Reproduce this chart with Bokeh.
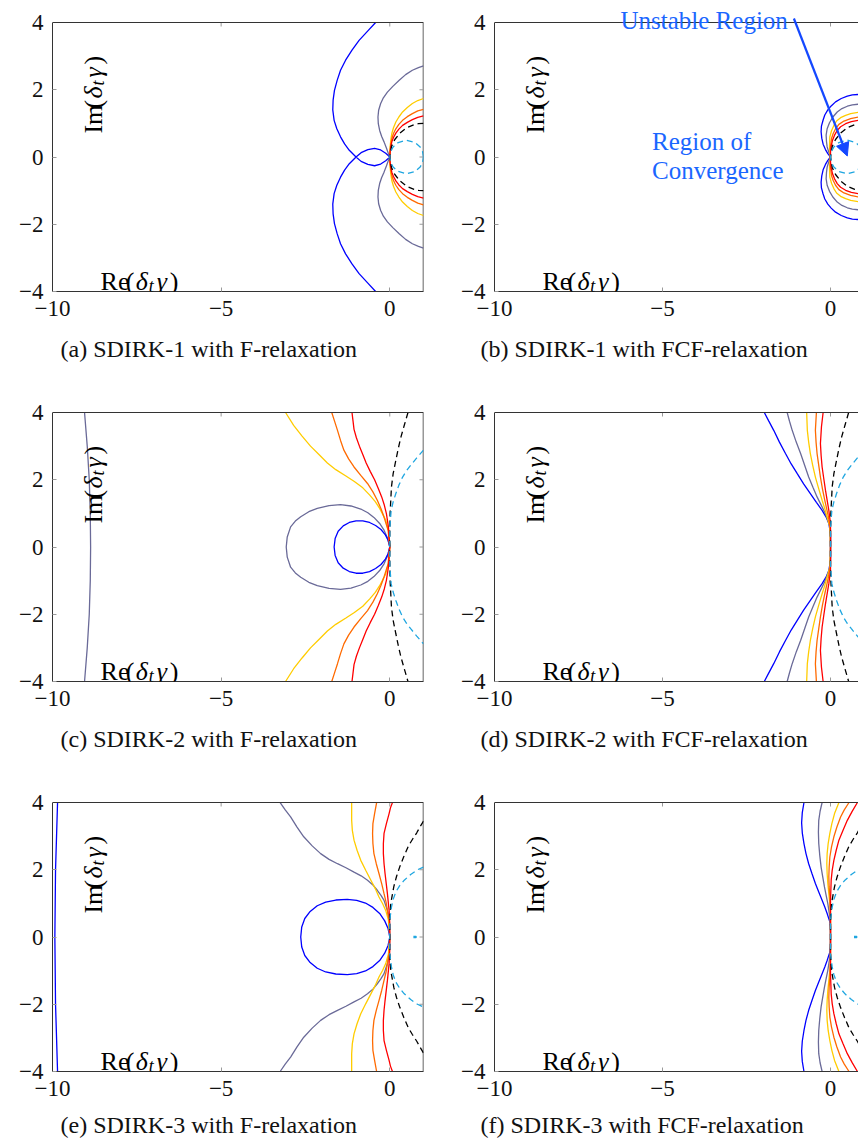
import math
from bokeh.plotting import figure
from bokeh.layouts import column, row
from bokeh.models import Label, Arrow, NormalHead, FixedTicker, Title, Span
from bokeh.embed import file_html
from bokeh.resources import INLINE

# ---------------- data (upper halves; curves are symmetric about Im=0) -------------
x_ticks = [-10, -5, 0]
x_tick_labels = ["\u221210", "\u22125", "0"]
y_ticks = [-4, -2, 0, 2, 4]
y_tick_labels = ["\u22124", "\u22122", "0", "2", "4"]

captions = ["(a) SDIRK-1 with F-relaxation", "(b) SDIRK-1 with FCF-relaxation",
            "(c) SDIRK-2 with F-relaxation", "(d) SDIRK-2 with FCF-relaxation",
            "(e) SDIRK-3 with F-relaxation", "(f) SDIRK-3 with FCF-relaxation"]

# SDIRK-1, F-relaxation
a_blue_outer = [(-0.42, 4.0), (-0.65, 3.75), (-0.91, 3.47), (-1.12, 3.18), (-1.31, 2.88), (-1.46, 2.58),
                (-1.56, 2.28), (-1.64, 1.98), (-1.68, 1.69), (-1.69, 1.40), (-1.65, 1.09), (-1.57, 0.84),
                (-1.46, 0.60), (-1.34, 0.39), (-1.20, 0.20), (-1.0, 0.0)]
a_blue_inner = [(-1.0, 0.0), (-0.85, 0.13), (-0.65, 0.22), (-0.45, 0.26), (-0.27, 0.21),
                (-0.12, 0.11), (-0.03, 0.03), (0.0, 0.0)]
a_slate = [(1.0, 2.71), (0.85, 2.66), (0.67, 2.58), (0.47, 2.45), (0.28, 2.28), (0.09, 2.10), (-0.07, 1.93),
           (-0.19, 1.76), (-0.27, 1.59), (-0.33, 1.39), (-0.35, 1.19), (-0.34, 0.99), (-0.30, 0.79),
           (-0.24, 0.61), (-0.17, 0.45), (-0.10, 0.27), (-0.04, 0.10), (0.0, 0.0)]
a_yellow = [(1.0, 1.74), (0.83, 1.68), (0.67, 1.59), (0.52, 1.47), (0.38, 1.34), (0.27, 1.19), (0.18, 1.04),
            (0.11, 0.87), (0.06, 0.70), (0.03, 0.50), (0.01, 0.30), (0.0, 0.0)]
a_orange = [(1.0, 1.42), (0.83, 1.37), (0.67, 1.29), (0.52, 1.20), (0.38, 1.09), (0.27, 0.97), (0.18, 0.84),
            (0.11, 0.70), (0.06, 0.55), (0.03, 0.38), (0.01, 0.20), (0.0, 0.0)]
a_red = [(1.0, 1.22), (0.83, 1.18), (0.67, 1.11), (0.52, 1.03), (0.38, 0.94), (0.27, 0.83), (0.18, 0.71),
         (0.11, 0.58), (0.06, 0.45), (0.03, 0.30), (0.01, 0.15), (0.0, 0.0)]

# SDIRK-1, FCF-relaxation
b_blue = [(0.83, 1.86), (0.65, 1.85), (0.5, 1.81), (0.32, 1.74), (0.15, 1.64), (0.02, 1.52), (-0.08, 1.40),
          (-0.17, 1.25), (-0.22, 1.10), (-0.27, 0.92), (-0.28, 0.75), (-0.26, 0.56), (-0.22, 0.38),
          (-0.15, 0.22), (-0.08, 0.10), (0.0, 0.0)]
b_slate = [(0.83, 1.57), (0.65, 1.55), (0.5, 1.51), (0.34, 1.44), (0.2, 1.34), (0.07, 1.19), (-0.03, 1.02),
           (-0.10, 0.84), (-0.13, 0.65), (-0.12, 0.46), (-0.10, 0.30), (-0.05, 0.14), (0.0, 0.0)]
b_yellow = [(0.83, 1.33), (0.6, 1.29), (0.45, 1.24), (0.3, 1.17), (0.18, 1.07), (0.1, 0.94), (0.03, 0.78),
            (-0.02, 0.60), (-0.03, 0.30), (0.0, 0.0)]
b_orange = [(0.83, 1.19), (0.6, 1.14), (0.4, 1.07), (0.25, 0.97), (0.15, 0.84), (0.08, 0.70), (0.03, 0.55),
            (-0.01, 0.25), (0.0, 0.0)]
b_red = [(0.83, 1.09), (0.62, 1.05), (0.45, 0.99), (0.3, 0.90), (0.2, 0.79), (0.12, 0.65), (0.06, 0.50),
         (0.02, 0.32), (0.0, 0.15), (0.0, 0.0)]

# SDIRK-1 stability boundaries (fine: black, coarse: cyan)
s1_black = [(1.0, 1.0), (0.85, 0.99), (0.72, 0.96), (0.5, 0.87), (0.3, 0.71), (0.15, 0.52), (0.05, 0.31),
            (0.0, 0.0)]
s1_cyan = [(1.0, 0.0), (0.97, 0.17), (0.9, 0.3), (0.75, 0.43), (0.5, 0.5), (0.25, 0.43), (0.1, 0.3),
           (0.03, 0.17), (0.0, 0.0)]

# SDIRK-2, F-relaxation
c_slate_line = [(-9.05, 4.0), (-8.97, 3.0), (-8.91, 2.0), (-8.88, 1.0), (-8.87, 0.0)]
c_slate_loop = [(-3.07, 0.0), (-3.04, 0.30), (-2.94, 0.60), (-2.80, 0.77), (-2.64, 0.90), (-2.40, 1.05),
                (-2.15, 1.15), (-1.80, 1.23), (-1.46, 1.26), (-1.15, 1.22), (-0.86, 1.13), (-0.65, 1.02),
                (-0.47, 0.88), (-0.30, 0.70), (-0.17, 0.50), (-0.08, 0.30), (-0.02, 0.10), (0.0, 0.0)]
c_blue = [(-1.65, 0.0), (-1.62, 0.25), (-1.53, 0.47), (-1.38, 0.63), (-1.2, 0.73), (-1.0, 0.78),
          (-0.80, 0.78), (-0.6, 0.73), (-0.42, 0.64), (-0.26, 0.52), (-0.13, 0.36), (-0.05, 0.20), (0.0, 0.0)]
c_yellow = [(-3.09, 4.0), (-2.85, 3.62), (-2.6, 3.3), (-2.35, 3.0), (-2.1, 2.75), (-1.85, 2.5), (-1.6, 2.3),
            (-1.3, 2.11), (-1.05, 1.95), (-0.8, 1.76), (-0.6, 1.55), (-0.43, 1.35), (-0.3, 1.15),
            (-0.12, 0.80), (-0.03, 0.45), (0.0, 0.0)]
c_orange = [(-1.72, 4.0), (-1.64, 3.75), (-1.55, 3.47), (-1.46, 3.17), (-1.36, 2.88), (-1.22, 2.62),
            (-1.06, 2.38), (-0.86, 2.13), (-0.66, 1.89), (-0.50, 1.64), (-0.37, 1.39), (-0.26, 1.14),
            (-0.17, 0.89), (-0.05, 0.50), (0.0, 0.0)]
c_red = [(-1.12, 4.0), (-1.09, 3.75), (-1.06, 3.5), (-0.99, 3.25), (-0.9, 3.0), (-0.8, 2.75), (-0.7, 2.5),
         (-0.58, 2.25), (-0.45, 2.0), (-0.34, 1.74), (-0.24, 1.49), (-0.16, 1.24), (-0.10, 0.99),
         (-0.04, 0.60), (0.0, 0.0)]

# SDIRK-2, FCF-relaxation
d_blue = [(-1.97, 4.0), (-1.84, 3.75), (-1.69, 3.47), (-1.52, 3.12), (-1.34, 2.78), (-1.17, 2.47),
          (-0.99, 2.18), (-0.80, 1.88), (-0.60, 1.59), (-0.42, 1.33), (-0.25, 1.09), (-0.13, 0.89),
          (-0.05, 0.70), (0.0, 0.40), (0.0, 0.0)]
d_slate = [(-1.29, 4.0), (-1.22, 3.74), (-1.14, 3.47), (-1.02, 3.12), (-0.89, 2.78), (-0.77, 2.43),
           (-0.65, 2.08), (-0.52, 1.77), (-0.40, 1.49), (-0.27, 1.23), (-0.15, 0.99), (-0.03, 0.65),
           (0.0, 0.30), (0.0, 0.0)]
d_yellow = [(-0.71, 4.0), (-0.69, 3.47), (-0.65, 3.12), (-0.60, 2.78), (-0.53, 2.43), (-0.45, 2.08),
            (-0.35, 1.73), (-0.25, 1.39), (-0.17, 1.14), (-0.10, 0.89), (-0.02, 0.60), (0.0, 0.0)]
d_orange = [(-0.42, 4.0), (-0.45, 3.47), (-0.43, 3.12), (-0.40, 2.78), (-0.35, 2.43), (-0.30, 2.08),
            (-0.24, 1.73), (-0.17, 1.39), (-0.06, 0.89), (0.0, 0.50), (0.0, 0.0)]
d_red = [(-0.22, 4.0), (-0.27, 3.57), (-0.30, 3.08), (-0.28, 2.73), (-0.25, 2.38), (-0.20, 2.03),
         (-0.15, 1.69), (-0.05, 1.09), (0.0, 0.70), (0.0, 0.0)]

# SDIRK-2 stability boundaries
s2_black = [(0.54, 4.0), (0.43, 3.62), (0.33, 3.27), (0.25, 2.92), (0.18, 2.58), (0.10, 2.18),
            (0.05, 1.79), (0.01, 1.0), (0.0, 0.4), (0.0, 0.0)]
s2_cyan = [(1.0, 2.88), (0.80, 2.65), (0.62, 2.43), (0.49, 2.26), (0.38, 2.08), (0.27, 1.84), (0.18, 1.59),
           (0.10, 1.34), (0.04, 1.09), (0.0, 0.55), (0.0, 0.0)]

# SDIRK-3, F-relaxation
e_blue_line = [(-9.85, 4.0), (-9.88, 3.0), (-9.91, 2.0), (-9.92, 1.0), (-9.93, 0.0)]
e_slate = [(-3.25, 4.0), (-3.10, 3.78), (-2.94, 3.57), (-2.75, 3.27), (-2.55, 2.98), (-2.30, 2.71),
           (-2.05, 2.48), (-1.80, 2.31), (-1.55, 2.18), (-1.30, 2.06), (-1.06, 1.93), (-0.85, 1.82),
           (-0.66, 1.69), (-0.50, 1.55), (-0.37, 1.39), (-0.26, 1.24), (-0.17, 1.09), (-0.07, 0.79),
           (-0.02, 0.50), (0.0, 0.0)]
e_blue_loop = [(-2.64, 0.0), (-2.61, 0.30), (-2.52, 0.55), (-2.36, 0.76), (-2.15, 0.93), (-1.9, 1.04),
               (-1.6, 1.10), (-1.26, 1.12), (-0.98, 1.09), (-0.72, 1.01), (-0.50, 0.88), (-0.30, 0.70),
               (-0.15, 0.48), (-0.05, 0.25), (0.0, 0.0)]
e_yellow = [(-1.13, 4.0), (-1.13, 3.47), (-1.11, 3.17), (-1.06, 2.88), (-0.97, 2.58), (-0.86, 2.28),
            (-0.71, 1.98), (-0.56, 1.69), (-0.43, 1.44), (-0.32, 1.19), (-0.21, 0.99), (-0.12, 0.79),
            (-0.04, 0.50), (0.0, 0.0)]
e_orange = [(-0.39, 4.0), (-0.45, 3.67), (-0.50, 3.37), (-0.51, 3.08), (-0.50, 2.78), (-0.47, 2.48),
            (-0.40, 2.18), (-0.32, 1.89), (-0.24, 1.59), (-0.17, 1.29), (-0.11, 1.04), (-0.07, 0.79),
            (-0.02, 0.50), (0.0, 0.0)]
e_red = [(0.08, 4.0), (0.02, 3.84), (-0.02, 3.67), (-0.10, 3.37), (-0.17, 3.08), (-0.19, 2.78), (-0.19, 2.48),
         (-0.17, 2.18), (-0.14, 1.89), (-0.07, 1.29), (-0.02, 0.79), (0.0, 0.40), (0.0, 0.0)]

# SDIRK-3, FCF-relaxation
f_blue = [(-0.79, 4.0), (-0.84, 3.7), (-0.86, 3.4), (-0.84, 3.1), (-0.79, 2.78), (-0.73, 2.48), (-0.65, 2.18),
          (-0.55, 1.88), (-0.45, 1.59), (-0.35, 1.34), (-0.25, 1.09), (-0.17, 0.89), (-0.10, 0.70),
          (-0.02, 0.45), (0.0, 0.30), (0.0, 0.0)]
f_slate = [(-0.25, 4.0), (-0.31, 3.74), (-0.35, 3.47), (-0.36, 3.12), (-0.35, 2.78), (-0.32, 2.43),
           (-0.28, 2.08), (-0.23, 1.78), (-0.18, 1.49), (-0.13, 1.24), (-0.08, 0.99), (-0.02, 0.60), (0.0, 0.0)]
f_yellow = [(0.25, 4.0), (0.12, 3.67), (0.04, 3.37), (-0.02, 3.08), (-0.07, 2.78), (-0.10, 2.48),
            (-0.11, 2.18), (-0.10, 1.89), (-0.08, 1.59), (-0.05, 1.29), (0.0, 0.79), (0.0, 0.0)]
f_orange = [(0.55, 4.0), (0.41, 3.78), (0.30, 3.57), (0.19, 3.27), (0.10, 2.98), (0.03, 2.68), (-0.02, 2.38),
            (-0.04, 2.08), (-0.05, 1.79), (-0.04, 1.49), (-0.02, 1.19), (0.0, 0.60), (0.0, 0.0)]
f_red = [(0.80, 4.0), (0.64, 3.73), (0.50, 3.47), (0.37, 3.17), (0.25, 2.88), (0.17, 2.58), (0.10, 2.28),
         (0.05, 1.98), (0.02, 1.69), (0.0, 1.09), (0.0, 0.0)]

# SDIRK-3 stability boundaries
s3_black = [(1.0, 3.45), (0.9, 3.28), (0.8, 3.1), (0.67, 2.9), (0.55, 2.7), (0.42, 2.4), (0.3, 2.1),
            (0.2, 1.8), (0.12, 1.5), (0.03, 1.0), (0.0, 0.5), (0.0, 0.0)]
s3_cyan = [(1.0, 2.08), (0.82, 2.0), (0.62, 1.86), (0.43, 1.69), (0.29, 1.52), (0.18, 1.34), (0.10, 1.12),
           (0.05, 0.89), (0.0, 0.5), (0.0, 0.0)]
s3_cyan_dot = [(0.70, 0.02), (0.78, 0.02)]

# ---------------- styles ----------------
BLUE = "#0000ff"
SLATE = "#6a6a98"
YELLOW = "#ffcc00"
ORANGE = "#ff6a00"
RED = "#ff0000"
BLACK = "#000000"
CYAN = "#1fa6e0"
NOTE = "#1a66ff"
ARROWC = "#1448ff"
FRAME = "#333333"
TICK = "#9a9a9a"
FONT = "Liberation Serif"
PX_X = 33.65
PX_Y = 33.6
TOP_PAD = 22  # px of free space above the y=4 frame line (inside the plotting area)


def mirror(pts):
    xs = [p[0] for p in pts] + [p[0] for p in reversed(pts)]
    ys = [p[1] for p in pts] + [-p[1] for p in reversed(pts)]
    return xs, ys


def draw(p, pts, color, dashed=False):
    xs, ys = mirror(pts)
    if dashed:
        p.line(xs, ys, line_color=color, line_width=1.3, line_dash="6 4")
    else:
        p.line(xs, ys, line_color=color, line_width=1.3)


def style_axis(ax, overrides):
    ax.axis_line_color = FRAME
    ax.axis_line_width = 1
    ax.major_tick_in = 4
    ax.major_tick_out = 0
    ax.major_tick_line_color = TICK
    ax.minor_tick_line_color = None
    ax.major_label_text_font = FONT
    ax.major_label_text_font_size = "23px"
    ax.major_label_text_color = "#111111"
    ax.major_label_standoff = 9
    ax.major_label_overrides = overrides


def make_fig(left_col, last_row, caption):
    w = 444 if left_col else 414
    h = 368 if last_row else 390
    xr_end = 1.0 if left_col else 0.833
    y_end = 4 + TOP_PAD / PX_Y
    p = figure(width=w, height=h, x_range=(-10, xr_end), y_range=(-4, y_end),
               output_backend="svg", toolbar_location=None,
               min_border_left=52 if left_col else 50,
               min_border_right=21 if left_col else 0,
               min_border_top=0, min_border_bottom=h - TOP_PAD - 269)
    p.grid.visible = False
    p.outline_line_color = None
    p.background_fill_color = "white"
    p.border_fill_color = "white"

    p.xaxis.ticker = FixedTicker(ticks=x_ticks)
    p.yaxis.ticker = FixedTicker(ticks=y_ticks)
    style_axis(p.xaxis[0], dict(zip(x_ticks, x_tick_labels)))
    style_axis(p.yaxis[0], dict(zip(y_ticks, y_tick_labels)))
    p.yaxis[0].bounds = (-4, 4)

    # top frame line at Im = 4 with inward ticks
    p.add_layout(Span(location=4, dimension="width", line_color=FRAME, line_width=1))
    p.segment(x0=x_ticks, y0=[4] * len(x_ticks), x1=x_ticks, y1=[4 - 4 / PX_Y] * len(x_ticks),
              line_color=TICK, line_width=1)
    if left_col:
        # right frame line at Re = 1 with inward ticks
        p.segment(x0=[1], y0=[-4], x1=[1], y1=[4], line_color=FRAME, line_width=1.5)
        p.segment(x0=[1 - 4 / PX_X] * len(y_ticks), y0=y_ticks, x1=[1] * len(y_ticks), y1=y_ticks,
                  line_color=TICK, line_width=1)

    # in-plot axis labels  Re(δ_t γ)  and  Im(δ_t γ)
    pieces = [("(", 0), ("\u03b4", 0), ("t", 1), ("\u03b3", 0), (")", 0)]
    offs = [25, 35, 48, 56, 69]
    styles = ["normal", "italic", "italic", "italic", "normal"]
    x0 = -10 + 48 / PX_X
    y0 = -4 + 10 / PX_Y
    xv = -10 + 41.3 / PX_X
    yv = 4 - 111.0 / PX_Y
    for lead, is_h in (("Re", True), ("Im", False)):
        items = [(lead, 0, 0, "normal")] + [
            (t, o, s, st) for (t, s), o, st in zip(pieces, offs, styles)]
        for text, off, sub, st in items:
            size = "18px" if sub else "26px"
            if is_h:
                lab = Label(x=x0 + off / PX_X, y=y0 - (4.5 / PX_Y if sub else 0), text=text,
                            text_font=FONT, text_font_size=size, text_font_style=st,
                            text_align="left", text_baseline="alphabetic", text_color="black")
            else:
                lab = Label(x=xv + (4.5 / PX_X if sub else 0), y=yv + off / PX_Y, text=text,
                            angle=math.pi / 2,
                            text_font=FONT, text_font_size=size, text_font_style=st,
                            text_align="left", text_baseline="alphabetic", text_color="black")
            p.add_layout(lab)

    cap = Title(text=caption, align="left", offset=8 if left_col else -14,
                text_font=FONT, text_font_size="24px", text_font_style="normal",
                text_color="#111111", standoff=22 if last_row else 30, vertical_align="bottom")
    p.add_layout(cap, "below")
    return p


pa = make_fig(True, False, captions[0])
pb = make_fig(False, False, captions[1])
pc = make_fig(True, False, captions[2])
pd_ = make_fig(False, False, captions[3])
pe = make_fig(True, True, captions[4])
pf = make_fig(False, True, captions[5])

# (a)
draw(pa, a_blue_outer, BLUE)
draw(pa, a_blue_inner, BLUE)
draw(pa, a_slate, SLATE)
draw(pa, a_yellow, YELLOW)
draw(pa, a_orange, ORANGE)
draw(pa, a_red, RED)
draw(pa, s1_black, BLACK, True)
draw(pa, s1_cyan, CYAN, True)

# (b)
draw(pb, b_blue, BLUE)
draw(pb, b_slate, SLATE)
draw(pb, b_yellow, YELLOW)
draw(pb, b_orange, ORANGE)
draw(pb, b_red, RED)
draw(pb, s1_black, BLACK, True)
draw(pb, s1_cyan, CYAN, True)
pb.add_layout(Label(x=-6.25, y=4.05, text="Unstable Region", text_font=FONT, text_font_size="25px",
                    text_color=NOTE, text_align="left", text_baseline="alphabetic"))
pb.add_layout(Label(x=-5.31, y=0.45, text="Region of", text_font=FONT, text_font_size="25px",
                    text_color=NOTE, text_align="left", text_baseline="alphabetic"))
pb.add_layout(Label(x=-5.31, y=-0.40, text="Convergence", text_font=FONT, text_font_size="25px",
                    text_color=NOTE, text_align="left", text_baseline="alphabetic"))
pb.add_layout(Arrow(end=NormalHead(size=13, fill_color=ARROWC, line_color=ARROWC),
                    x_start=-1.09, y_start=4.12, x_end=0.50, y_end=0.03,
                    line_color=ARROWC, line_width=2.2))

# (c)
draw(pc, c_slate_line, SLATE)
draw(pc, c_slate_loop, SLATE)
draw(pc, c_blue, BLUE)
draw(pc, c_yellow, YELLOW)
draw(pc, c_orange, ORANGE)
draw(pc, c_red, RED)
draw(pc, s2_black, BLACK, True)
draw(pc, s2_cyan, CYAN, True)

# (d)
draw(pd_, d_blue, BLUE)
draw(pd_, d_slate, SLATE)
draw(pd_, d_yellow, YELLOW)
draw(pd_, d_orange, ORANGE)
draw(pd_, d_red, RED)
draw(pd_, s2_black, BLACK, True)
draw(pd_, s2_cyan, CYAN, True)

# (e)
draw(pe, e_blue_line, BLUE)
draw(pe, e_slate, SLATE)
draw(pe, e_blue_loop, BLUE)
draw(pe, e_yellow, YELLOW)
draw(pe, e_orange, ORANGE)
draw(pe, e_red, RED)
draw(pe, s3_black, BLACK, True)
draw(pe, s3_cyan, CYAN, True)
draw(pe, s3_cyan_dot, CYAN)

# (f)
draw(pf, f_blue, BLUE)
draw(pf, f_slate, SLATE)
draw(pf, f_yellow, YELLOW)
draw(pf, f_orange, ORANGE)
draw(pf, f_red, RED)
draw(pf, s3_black, BLACK, True)
draw(pf, s3_cyan, CYAN, True)
draw(pf, s3_cyan_dot, CYAN)

layout = column(row(pa, pb), row(pc, pd_), row(pe, pf))
open("out.html", "w").write(file_html(layout, INLINE))
